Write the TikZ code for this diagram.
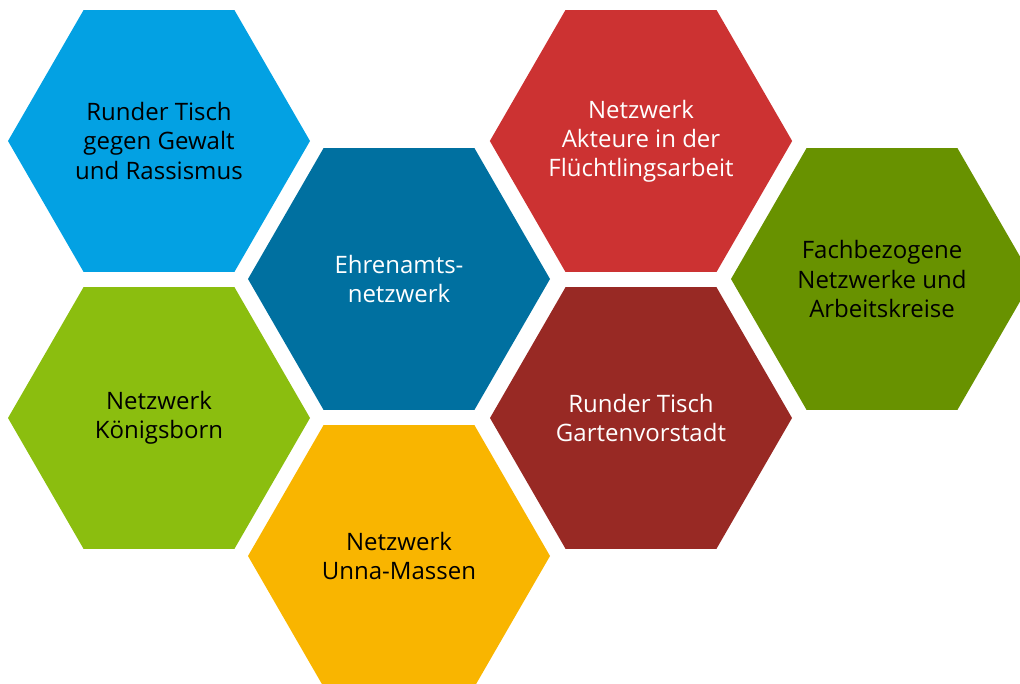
\documentclass[tikz,border=0pt]{standalone}
\usepackage{fontspec}
\setmainfont{Open Sans}
\usepackage{tikz}
\usetikzlibrary{shapes.geometric}

\definecolor{hexblue}{RGB}{3,161,227}
\definecolor{hexteal}{RGB}{0,112,160}
\definecolor{hexred}{RGB}{204,50,50}
\definecolor{hexolive}{RGB}{104,146,0}
\definecolor{hexgreen}{RGB}{139,190,15}
\definecolor{hexdarkred}{RGB}{152,41,36}
\definecolor{hexyellow}{RGB}{249,181,0}

\begin{document}
\begin{tikzpicture}[x=0.75pt, y=-0.75pt,
    hexa/.style={regular polygon, regular polygon sides=6, minimum size=226.5pt,
      inner sep=0pt, align=center, font=\fontsize{18}{21.9}\selectfont}]
    \useasboundingbox (0,0) rectangle (1020,684);
    \clip (0,0) rectangle (1020,684);
    % left column
    \node[hexa, fill=hexblue] (gewalt) at (159,141) {Runder Tisch\\gegen Gewalt\\und Rassismus};
    \node[hexa, fill=hexgreen] (koenigsborn) at (159,418) {Netzwerk\\Königsborn};
    % middle column
    \node[hexa, fill=hexteal, text=white] (ehrenamt) at (399,279) {Ehrenamts-\\netzwerk};
    \node[hexa, fill=hexyellow] (unna) at (399,556) {Netzwerk\\Unna-Massen};
    % right column
    \node[hexa, fill=hexred, text=white] (akteure) at (641,141) {Netzwerk\\Akteure in der\\Flüchtlingsarbeit};
    \node[hexa, fill=hexdarkred, text=white] (garten) at (641,418) {Runder Tisch\\Gartenvorstadt};
    \node[hexa, fill=hexolive] (fach) at (882,279) {Fachbezogene\\Netzwerke und\\Arbeitskreise};
  \end{tikzpicture}
\end{document}
